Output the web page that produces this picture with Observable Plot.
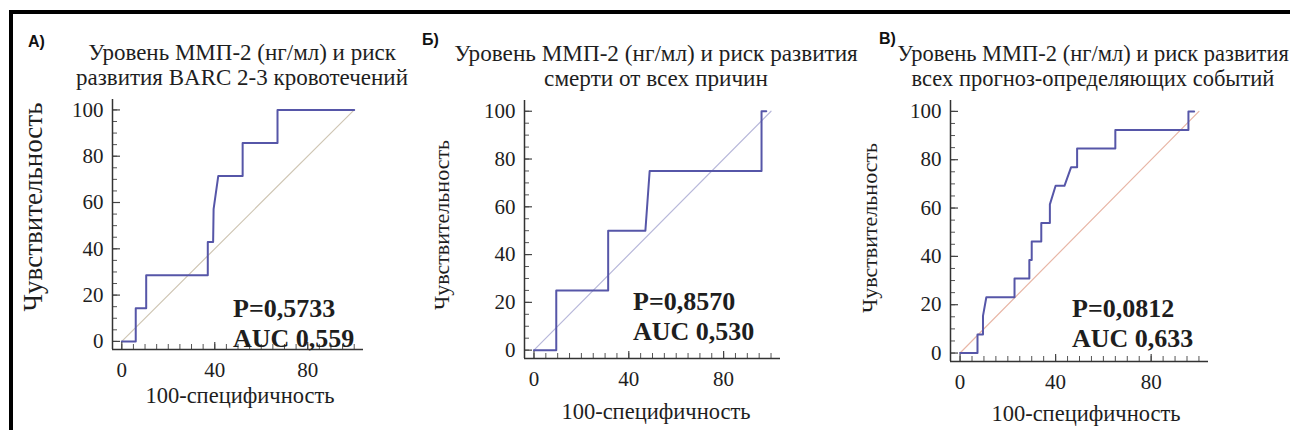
<!DOCTYPE html>
<html><head><meta charset="utf-8">
<script src="https://cdn.jsdelivr.net/npm/d3@7"></script>
<script src="https://cdn.jsdelivr.net/npm/@observablehq/plot@0.6"></script>
<style>
body{margin:0;background:#fff}
#wrap{position:relative;width:1290px;height:430px;overflow:hidden;background:#fff}
#border{position:absolute;left:9px;top:10px;width:1400px;height:600px;border:4px solid #000;box-sizing:border-box}
.t{position:absolute;font-family:"Liberation Serif","Times New Roman",serif;color:#1e1e1e;white-space:nowrap;line-height:1}
.ttl{line-height:25px;text-align:center;transform:translateX(-50%)}
.tag{position:absolute;font-family:"Liberation Sans",Arial,sans-serif;font-weight:bold;font-size:16px;color:#111;line-height:1}
.xl{font-size:22.5px;transform:translate(-50%,-50%)}
.yl{transform:translate(-50%,-50%) rotate(-90deg)}
.stat{font-size:26px;font-weight:bold;line-height:30px}
svg{position:absolute;top:0;overflow:visible}
svg text, svg g{font-family:"Liberation Serif","Times New Roman",serif !important}
svg text{fill:#1e1e1e}
</style></head>
<body><div id="wrap"><div id="border"></div></div>
<script>
// ---- data ----
const panels = ["А)", "Б)", "В)"];
const titles = [
  ["Уровень ММП-2 (нг/мл) и риск", "развития BARC 2-3 кровотечений"],
  ["Уровень ММП-2 (нг/мл) и риск развития", "смерти от всех причин"],
  ["Уровень ММП-2 (нг/мл) и риск развития", "всех прогноз-определяющих событий"]
];
const pValues = ["P=0,5733", "P=0,8570", "P=0,0812"];
const aucValues = ["AUC 0,559", "AUC 0,530", "AUC 0,633"];
const xLabel = "100-специфичность";
const yLabel = "Чувствительность";

// ROC curves: 100-specificity (fpr) and sensitivity (tpr)
const fprA = [0, 6, 6, 10.5, 10.5, 37, 37, 39.3, 39.5, 41.5, 52, 52, 67, 67, 100];
const tprA = [0, 0, 14.3, 14.3, 28.6, 28.6, 42.9, 42.9, 57.1, 71.4, 71.4, 85.7, 85.7, 100, 100];
const fprB = [0, 9.4, 9.4, 31.3, 31.3, 47, 48.8, 96, 96, 98];
const tprB = [0, 0, 25, 25, 50, 50, 75, 75, 100, 100];
const fprC = [0, 7.3, 7.3, 9.6, 9.6, 11, 22.8, 22.8, 29, 29, 30, 30, 34, 34, 37.6, 37.6, 40, 43.7, 46.5, 49, 49, 65, 65, 95.6, 95.6, 98];
const tprC = [0, 0, 7.7, 7.7, 15.4, 23.1, 23.1, 30.8, 30.8, 38.5, 38.5, 46.2, 46.2, 53.8, 53.8, 61.5, 69.2, 69.2, 76.9, 76.9, 84.6, 84.6, 92.3, 92.3, 100, 100];
const refLine = [0, 100];

const xTicks = [0, 40, 80];
const yTicks = [0, 20, 40, 60, 80, 100];
const minorTicks = d3.range(0, 101, 5);

// ---- layout ----
const xDomain = [-4, 104];
const yDomain = [-3.5, 104.5];
const curveColor = "#5656a8";
const refColors = ["#cfc6b4", "#b8b8da", "#e8b6a6"];
const series = [[fprA, tprA], [fprB, tprB], [fprC, tprC]];
const layout = [
  {box: 0,   boxW: 425, L: 112, R: 363, T: 99,  B: 349, tx: 242, tt: 40, ts: 23, tag: [28, 34], xl: [240, 396], yl: [33, 207], ylSize: 27, st: [233, 294]},
  {box: 425, boxW: 425, L: 524, R: 780, T: 100, B: 358, tx: 656, tt: 41, ts: 23.2, tag: [422, 32], xl: [656, 412], yl: [442, 225], ylSize: 22, st: [633, 287]},
  {box: 850, boxW: 440, L: 950, R: 1208, T: 100, B: 361, tx: 1093, tt: 41, ts: 22.5, tag: [879, 31], xl: [1086, 414], yl: [870, 228], ylSize: 22, st: [1072, 294]}
];

const wrap = document.getElementById("wrap");

function addDiv(cls, html, style) {
  const d = document.createElement("div");
  d.className = cls;
  d.innerHTML = html;
  Object.assign(d.style, style);
  wrap.appendChild(d);
  return d;
}

panels.forEach((name, i) => {
  const g = layout[i];
  const [fx, fy] = series[i];
  const pts = fx.map((x, j) => ({fpr: x, tpr: fy[j]}));
  const fw = g.R - g.L, fh = g.B - g.T;
  const chart = Plot.plot({
    width: g.boxW, height: 430,
    marginLeft: g.L - g.box, marginRight: g.box + g.boxW - g.R,
    marginTop: g.T, marginBottom: 430 - g.B,
    style: {fontFamily: "Liberation Serif", fontSize: "21px", background: "transparent", overflow: "visible"},
    x: {domain: xDomain},
    y: {domain: yDomain},
    marks: [
      Plot.line(refLine, {x: d => d, y: d => d, stroke: refColors[i], strokeWidth: 1.2}),
      Plot.line(pts, {x: "fpr", y: "tpr", stroke: curveColor, strokeWidth: 2}),
      Plot.tickY(minorTicks, {y: d => d, stroke: "#555", strokeWidth: 1, insetRight: fw - 5}),
      Plot.tickY(yTicks, {y: d => d, stroke: "#444", strokeWidth: 1.2, insetRight: fw - 8}),
      Plot.tickX(minorTicks, {x: d => d, stroke: "#555", strokeWidth: 1, insetTop: fh - 5}),
      Plot.tickX(xTicks, {x: d => d, stroke: "#444", strokeWidth: 1.2, insetTop: fh - 7}),
      Plot.ruleX([xDomain[0]], {stroke: "#333", strokeWidth: 1.5}),
      Plot.ruleY([yDomain[0]], {stroke: "#333", strokeWidth: 1.5}),
      Plot.axisY(yTicks, {anchor: "left", tickSize: 0, tickPadding: 9, fontSize: 21, fontFamily: "Liberation Serif", label: null}),
      Plot.axisX(xTicks, {anchor: "bottom", tickSize: 0, tickPadding: 13, fontSize: 21, fontFamily: "Liberation Serif", label: null})
    ]
  });
  chart.style.left = g.box + "px";
  wrap.appendChild(chart);

  addDiv("t ttl", titles[i].join("<br>"), {left: g.tx + "px", top: g.tt + "px", fontSize: g.ts + "px"});
  addDiv("tag", name, {left: g.tag[0] + "px", top: g.tag[1] + "px"});
  addDiv("t xl", xLabel, {left: g.xl[0] + "px", top: g.xl[1] + "px"});
  addDiv("t yl", yLabel, {left: g.yl[0] + "px", top: g.yl[1] + "px", fontSize: g.ylSize + "px"});
  addDiv("t stat", pValues[i] + "<br>" + aucValues[i], {left: g.st[0] + "px", top: g.st[1] + "px"});
});
</script>
</body></html>
